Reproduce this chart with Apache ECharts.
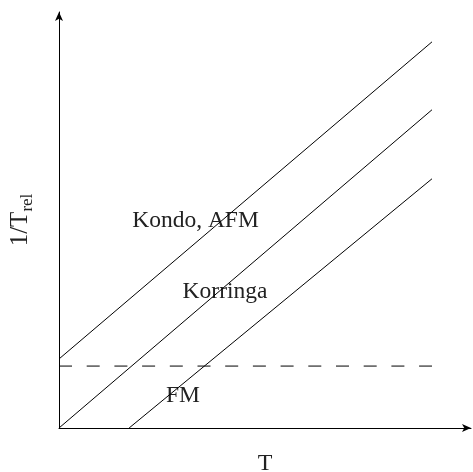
<!DOCTYPE html>
<html><head><meta charset="utf-8">
<script src="https://cdn.jsdelivr.net/npm/echarts@6/dist/echarts.min.js"></script>
<style>html,body{margin:0;padding:0;background:#fff}#c{width:473px;height:472px}</style>
</head><body><div id="c"></div>
<script>
// Data (arbitrary units: x in [0, 1.1046], y in [0, 1.115])
const xMax = 1.1046, yMax = 1.115;
const kondoAFM = [[0, 0.185], [1, 1.035]];
const korringa = [[0, 0], [1, 0.853]];
const fm = [[0.188, 0], [1, 0.668]];
const dashed = [[0, 0.166], [1, 0.166]];
const labels = ['Kondo, AFM', 'Korringa', 'FM'];

const chart = echarts.init(document.getElementById('c'), null, {renderer: 'canvas'});
const font = '"Liberation Serif", "DejaVu Serif", serif';
const lineStyle = {color: '#000', width: 1};
function mk(data, extra) {
  return Object.assign({type: 'line', data: data, symbol: 'none', silent: true,
    lineStyle: Object.assign({}, lineStyle), animation: false}, extra || {});
}
chart.setOption({
  animation: false,
  grid: {left: 59, right: 2, top: 12, bottom: 44, containLabel: false, outerBoundsMode: 'none'},
  xAxis: {type: 'value', min: 0, max: xMax, splitLine: {show: false},
    axisTick: {show: false}, axisLabel: {show: false},
    axisLine: {lineStyle: {color: '#000', width: 1}, symbol: ['none', 'arrow'], symbolSize: [6, 9]},
    name: 'T', nameLocation: 'middle', nameGap: 24,
    nameTextStyle: {fontFamily: font, fontSize: 24, color: '#222'}},
  yAxis: {type: 'value', min: 0, max: yMax, splitLine: {show: false},
    axisTick: {show: false}, axisLabel: {show: false},
    axisLine: {lineStyle: {color: '#000', width: 1}, symbol: ['none', 'arrow'], symbolSize: [6, 9]},
    name: '{a|1/T}{b|rel}', nameLocation: 'middle', nameGap: 26, nameRotate: 90,
    nameTextStyle: {fontFamily: font, color: '#222',
      rich: {a: {fontFamily: font, fontSize: 25, color: '#222', lineHeight: 25, verticalAlign: 'top'},
             b: {fontFamily: font, fontSize: 17, color: '#222', lineHeight: 17, padding: [11, 0, 0, 0], verticalAlign: 'top'}}}},
  series: [
    mk(kondoAFM), mk(korringa), mk(fm),
    mk(dashed, {lineStyle: {color: '#000', width: 1, type: [13, 14.7]}})
  ],
  graphic: [
    {type: 'text', x: 195.5, y: 221, style: {text: labels[0], font: '23.5px ' + font, fill: '#222', align: 'center', verticalAlign: 'middle'}},
    {type: 'text', x: 225, y: 292, style: {text: labels[1], font: '23.5px ' + font, fill: '#222', align: 'center', verticalAlign: 'middle'}},
    {type: 'text', x: 183, y: 396, style: {text: labels[2], font: '23.5px ' + font, fill: '#222', align: 'center', verticalAlign: 'middle'}}
  ]
});
</script></body></html>
